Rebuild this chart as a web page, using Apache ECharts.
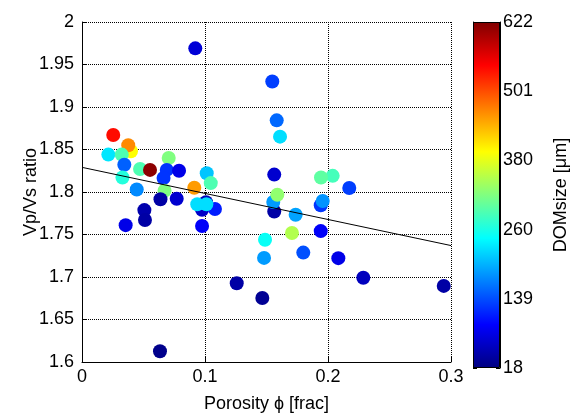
<!DOCTYPE html>
<html>
<head>
<meta charset="utf-8">
<script src="https://cdn.jsdelivr.net/npm/echarts@6/dist/echarts.min.js"></script>
<style>
  html, body { margin: 0; padding: 0; background: #fff; }
  #chart { width: 571px; height: 418px; }
</style>
</head>
<body>
<div id="chart"></div>
<script>
// Porosity (fraction), Vp/Vs ratio and dominant pore size (µm) per sample
const porosity = [
  0.0921, 0.1547, 0.0254, 0.0398, 0.0376, 0.0214, 0.0323, 0.0344, 0.0472, 0.0553,
  0.0705, 0.0689, 0.0789, 0.0329, 0.0663, 0.0445, 0.0913, 0.1014, 0.1047, 0.0671,
  0.0638, 0.0770, 0.1008, 0.0976, 0.1081, 0.0976, 0.0937, 0.1011, 0.0507, 0.0512,
  0.0355, 0.0634, 0.1258, 0.1466, 0.1488, 0.1480, 0.1563, 0.2038, 0.1943, 0.2173,
  0.1563, 0.1555, 0.1588, 0.1737, 0.1941, 0.1957, 0.1707, 0.1941, 0.1799, 0.2084,
  0.2287, 0.2941, 0.1583, 0.1610
];
const vpvs = [
  1.969, 1.930, 1.867, 1.848, 1.855, 1.844, 1.844, 1.832, 1.827, 1.826,
  1.840, 1.826, 1.825, 1.817, 1.8165, 1.803, 1.805, 1.822, 1.8105, 1.8015,
  1.7914, 1.792, 1.788, 1.779, 1.780, 1.760, 1.7856, 1.7856, 1.7787, 1.767,
  1.761, 1.6127, 1.6926, 1.6753, 1.7439, 1.7225, 1.8205, 1.819, 1.817, 1.8047,
  1.777, 1.7882, 1.7967, 1.7733, 1.7844, 1.7894, 1.7517, 1.754, 1.7287, 1.7222,
  1.6991, 1.6895, 1.8843, 1.8651
];
const domSize = [
  70, 130, 540, 395, 465, 230, 290, 150, 290, 615,
  320, 124, 80, 265, 124, 175, 455, 210, 290, 320,
  40, 65, 50, 60, 110, 90, 225, 225, 45, 40,
  80, 25, 40, 30, 250, 185, 65, 285, 300, 130,
  40, 185, 330, 190, 125, 180, 350, 90, 140, 80,
  55, 40, 155, 225
];

// Least-squares trend line end points
const fitPorosity = [0, 0.3];
const fitVpVs = [1.829, 1.737];

// Colour bar tick labels (DOMsize, µm)
const cbarTicks = ['18', '139', '260', '380', '501', '622'];
const domMin = 18, domMax = 622;

// Jet colour map
const jet = ['#000080', '#0000FF', '#0080FF', '#00FFFF', '#80FF80',
             '#FFFF00', '#FF8000', '#FF0000', '#800000'];

const points = porosity.map((p, i) => [p, vpvs[i], domSize[i]]);
const fitLine = fitPorosity.map((p, i) => [p, fitVpVs[i]]);

const font = 'Liberation Sans, Arial, sans-serif';
const txt = { color: '#000', fontFamily: font, fontSize: 18 };
const gridDots = { color: '#000', type: [1, 1], width: 1 };

const chart = echarts.init(document.getElementById('chart'), null, { renderer: 'canvas' });

chart.setOption({
  animation: false,
  backgroundColor: '#fff',
  textStyle: { fontFamily: font },
  grid: [
    { left: 82, top: 22, width: 369, height: 347 },
    { left: 473, top: 22, width: 29, height: 346 }
  ],
  visualMap: {
    show: false,
    type: 'continuous',
    seriesIndex: 0,
    dimension: 2,
    min: domMin,
    max: domMax,
    inRange: { color: jet }
  },
  xAxis: [
    {
      gridIndex: 0, type: 'value', min: 0, max: 0.3, interval: 0.1,
      name: 'Porosity ϕ [frac]', nameLocation: 'middle', nameGap: 33, nameMoveOverlap: false,
      nameTextStyle: txt,
      axisLine: { show: true, onZero: false, lineStyle: { color: '#000', width: 1 } },
      axisTick: { show: true, inside: true, length: 5, lineStyle: { color: '#000' } },
      axisLabel: Object.assign({ margin: 6 }, txt),
      splitLine: { show: true, lineStyle: gridDots }
    },
    {
      gridIndex: 1, type: 'category', data: ['c'], show: false
    }
  ],
  yAxis: [
    {
      gridIndex: 0, type: 'value', min: 1.6, max: 2, interval: 0.05,
      name: 'Vp/Vs ratio', nameLocation: 'middle', nameGap: 42, nameRotate: 90, nameMoveOverlap: false,
      nameTextStyle: txt,
      axisLine: { show: true, onZero: false, lineStyle: { color: '#000', width: 1 } },
      axisTick: { show: true, inside: true, length: 5, lineStyle: { color: '#000' } },
      axisLabel: Object.assign({ margin: 8 }, txt),
      splitLine: { show: true, lineStyle: gridDots }
    },
    {
      gridIndex: 1, type: 'value', position: 'right', min: 0, max: cbarTicks.length - 1, interval: 1,
      name: 'DOMsize [μm]', nameLocation: 'middle', nameGap: 52, nameRotate: 90, nameMoveOverlap: false,
      nameTextStyle: txt,
      axisLine: { show: true, lineStyle: { color: '#000', width: 1 } },
      axisTick: { show: true, inside: true, length: 4, lineStyle: { color: '#000' } },
      axisLabel: Object.assign({ margin: 3, formatter: v => cbarTicks[v] }, txt),
      splitLine: { show: false }
    },
    {
      gridIndex: 1, type: 'value', position: 'left', min: 0, max: cbarTicks.length - 1, interval: 1,
      axisLine: { show: true, lineStyle: { color: '#000', width: 1 } },
      axisTick: { show: true, inside: true, length: 4, lineStyle: { color: '#000' } },
      axisLabel: { show: false },
      splitLine: { show: false }
    }
  ],
  series: [
    {
      type: 'scatter',
      xAxisIndex: 0, yAxisIndex: 0,
      symbol: 'circle',
      symbolSize: 14,
      itemStyle: { opacity: 1 },
      data: points,
      z: 3
    },
    {
      type: 'line',
      xAxisIndex: 0, yAxisIndex: 0,
      data: fitLine,
      showSymbol: false,
      lineStyle: { color: '#000', width: 1 },
      z: 4
    },
    {
      type: 'bar',
      xAxisIndex: 1, yAxisIndex: 1,
      data: [cbarTicks.length - 1],
      barWidth: '100%',
      itemStyle: {
        borderColor: '#000',
        borderWidth: 1,
        color: {
          type: 'linear', x: 0, y: 1, x2: 0, y2: 0,
          colorStops: jet.map((c, i) => ({ offset: i / (jet.length - 1), color: c }))
        }
      }
    }
  ]
});
</script>
</body>
</html>
